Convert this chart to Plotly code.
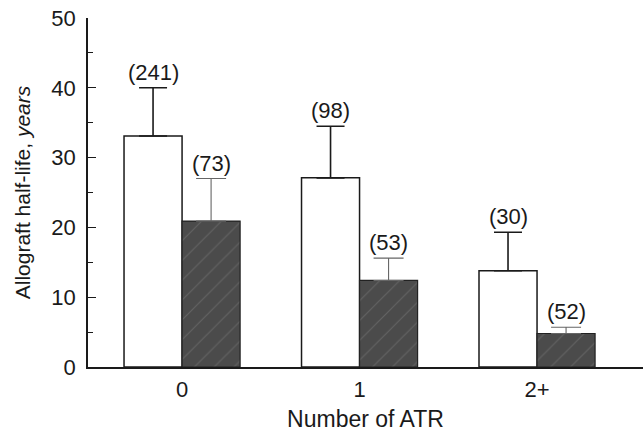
import plotly.graph_objects as go

categories = ["0", "1", "2+"]
open_values = [33.1, 27.1, 13.8]
open_errors = [6.9, 7.4, 5.5]
open_counts = ["(241)", "(98)", "(30)"]
hatched_values = [20.9, 12.4, 4.8]
hatched_errors = [6.1, 3.2, 0.9]
hatched_counts = ["(73)", "(53)", "(52)"]
y_ticks = [0, 10, 20, 30, 40, 50]

BW = 0.327
xs = list(range(len(categories)))
FONT = "Liberation Sans, Arial, Helvetica, sans-serif"
INK = "#1a1a1a"

fig = go.Figure()
fig.add_trace(go.Bar(
    x=xs, y=open_values, width=BW, offset=-BW,
    marker=dict(color="white", line=dict(color=INK, width=1.5)),
    error_y=dict(type="data", array=open_errors, arrayminus=[0] * 3, symmetric=False,
                 color=INK, thickness=1.6, width=14),
    showlegend=False, hoverinfo="skip",
))
fig.add_trace(go.Bar(
    x=xs, y=hatched_values, width=BW, offset=0,
    marker=dict(color="#4d4d4d", line=dict(color="#222222", width=1.2),
                pattern=dict(shape="/", fgcolor="#7a7a7a", bgcolor="#4b4b4b",
                             size=14, solidity=0.08)),
    error_y=dict(type="data", array=hatched_errors, arrayminus=[0] * 3, symmetric=False,
                 color="#666666", thickness=1.1, width=15),
    showlegend=False, hoverinfo="skip",
))

for i in xs:
    fig.add_annotation(x=i - BW / 2, y=open_values[i] + open_errors[i], text=open_counts[i],
                       showarrow=False, yanchor="bottom", yshift=1,
                       font=dict(size=22, color=INK, family=FONT))
    fig.add_annotation(x=i + BW / 2, y=hatched_values[i] + hatched_errors[i], text=hatched_counts[i],
                       showarrow=False, yanchor="bottom", yshift=1,
                       font=dict(size=22, color=INK, family=FONT))

fig.update_layout(
    width=643, height=432,
    margin=dict(l=88, r=0, t=18, b=65),
    paper_bgcolor="white", plot_bgcolor="white",
    font=dict(family=FONT, color=INK, size=22),
    barmode="overlay",
)
fig.update_xaxes(
    range=[-0.53, 2.597], tickmode="array", tickvals=xs, ticktext=categories,
    showline=True, linecolor=INK, linewidth=1.5, ticks="", showgrid=False, zeroline=False,
    tickfont=dict(size=22), ticklabelstandoff=2,
    title=dict(text="Number of ATR", font=dict(size=23), standoff=10),
)
fig.update_yaxes(
    range=[0, 50], tickmode="array", tickvals=y_ticks,
    showline=True, linecolor=INK, linewidth=1.5, ticks="inside", ticklen=8, tickwidth=1.2,
    tickcolor=INK, showgrid=False, zeroline=False,
    minor=dict(ticks="inside", dtick=5, ticklen=5, tickcolor=INK, tickwidth=1),
    tickfont=dict(size=22), ticklabelstandoff=6,
    title=dict(text="Allograft half-life, <i>years</i>", font=dict(size=21), standoff=15),
)

fig.write_html("out.html")
